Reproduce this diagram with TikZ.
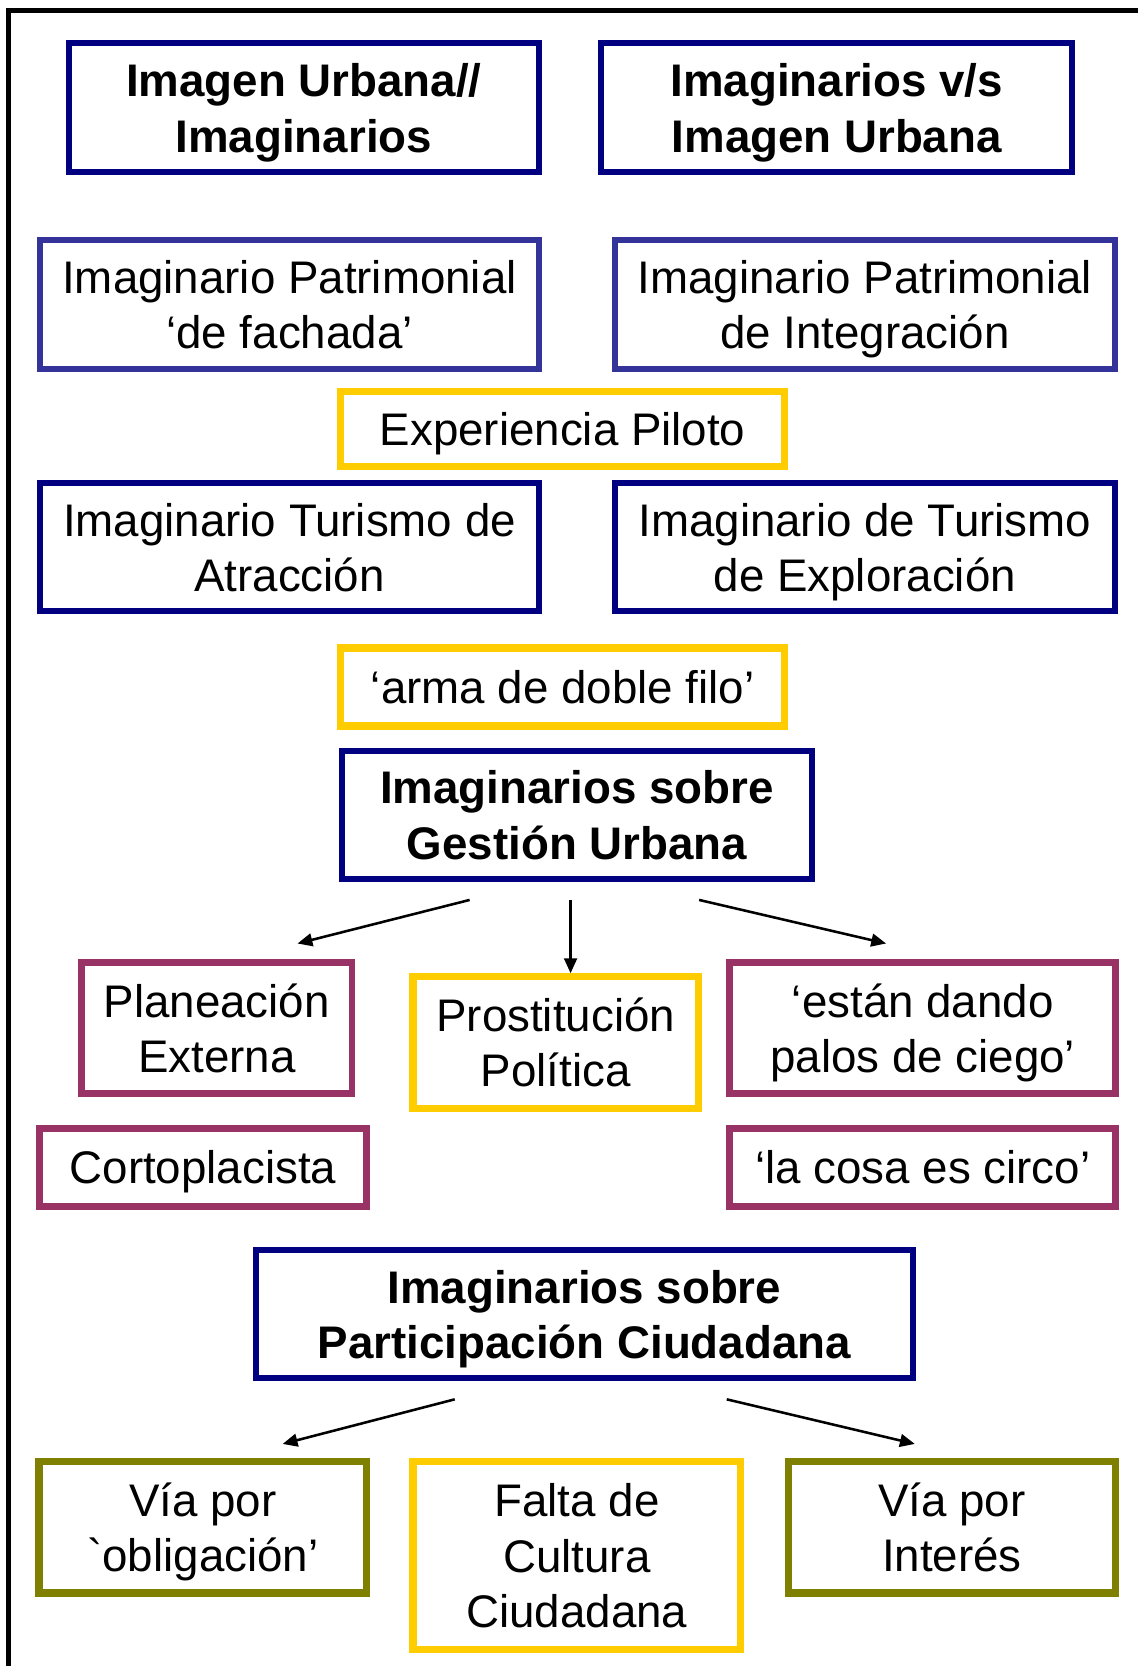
\documentclass[tikz,border=0pt]{standalone}
\usepackage{fontspec}
\setmainfont{Liberation Sans}[Ligatures=TeXOff]
\usepackage{tikz}
\usetikzlibrary{arrows.meta, positioning}
\definecolor{ImgNavy}{HTML}{000080}
\definecolor{ImgBlue}{HTML}{333399}
\definecolor{ImgYellow}{HTML}{FFCC00}
\definecolor{ImgMaroon}{HTML}{993366}
\definecolor{ImgOlive}{HTML}{808000}

\begin{document}
\begin{tikzpicture}[
  x=0.5pt, y=-0.5pt,
  concept/.style={rectangle, draw=#1, line width=2.8pt, align=center, inner sep=0pt, text depth=0pt, font=\fontsize{21.5}{26}\selectfont},
  heading/.style={concept=#1, font=\fontsize{21.5}{26}\selectfont\bfseries},
  boxdim/.style 2 args={minimum width=#1*0.5pt-2.8pt, minimum height=#2*0.5pt-2.8pt},
  >={Triangle[length=7pt,width=6pt]}
]
\useasboundingbox (0,0) rectangle (1071,1568);
\draw[line width=2.4pt] (8,1568) -- (8,10) -- (1075,10);

\node[heading=ImgNavy, boxdim={448}{127}] (UrbImag) at (286,101.5) {Imagen Urbana//\\Imaginarios};
\node[heading=ImgNavy, boxdim={449}{127}] (ImagUrb) at (787.5,101.5) {Imaginarios v/s\\Imagen Urbana};

\node[concept=ImgBlue, boxdim={475}{127}] (PatFach) at (272.5,286.5) {Imaginario Patrimonial\\‘de fachada’};
\node[concept=ImgBlue, boxdim={476}{127}] (PatInt) at (814,286.5) {Imaginario Patrimonial\\de Integración};
\node[concept=ImgYellow, line width=3.4pt, boxdim={423}{76}] (Piloto) at (529.5,404) {Experiencia Piloto};
\node[concept=ImgNavy, boxdim={475}{126}] (TurAtr) at (272.5,515) {Imaginario Turismo de\\Atracción};
\node[concept=ImgNavy, boxdim={476}{126}] (TurExp) at (814,515) {Imaginario de Turismo\\de Exploración};
\node[concept=ImgYellow, line width=3.4pt, boxdim={423}{79}] (Filo) at (529.5,646.5) {‘arma de doble filo’};

\node[heading=ImgNavy, boxdim={448}{126}] (Gestion) at (543,767) {Imaginarios sobre\\Gestión Urbana};
\node[concept=ImgMaroon, line width=3.2pt, boxdim={260}{129}] (Planea) at (204,967.5) {Planeación\\Externa};
\node[concept=ImgYellow, line width=3.4pt, boxdim={274}{130}] (Prost) at (523,981) {Prostitución\\Política};
\node[concept=ImgMaroon, line width=3.2pt, boxdim={369}{129}] (Ciego) at (868.5,967.5) {‘están dando\\palos de ciego’};
\node[concept=ImgMaroon, line width=3.2pt, boxdim={314}{79}] (Corto) at (191,1098.5) {Cortoplacista};
\node[concept=ImgMaroon, line width=3.2pt, boxdim={369}{79}] (Circo) at (868.5,1098.5) {‘la cosa es circo’};

\node[heading=ImgNavy, boxdim={624}{126}] (Partic) at (550,1237) {Imaginarios sobre\\Participación Ciudadana};
\node[concept=ImgOlive, line width=3.4pt, boxdim={314}{129}] (Oblig) at (191,1437.5) {Vía por\\`obligación’};
\node[concept=ImgYellow, line width=3.4pt, boxdim={314}{182}] (Cultura) at (543,1464) {Falta de\\Cultura\\Ciudadana};
\node[concept=ImgOlive, line width=3.4pt, boxdim={314}{129}] (Interes) at (896,1437.5) {Vía por\\Interés};

% arrow ends
\coordinate (GesL) at (442,847);
\coordinate (GesM) at (537,847);
\coordinate (GesR) at (658,847);
\coordinate (PlaTop) at (280,888);
\coordinate (ProTop) at (537,916);
\coordinate (CieTop) at (834,888);
\coordinate (ParL) at (428,1317);
\coordinate (ParR) at (684,1317);
\coordinate (OblTop) at (266,1359);
\coordinate (IntTop) at (861,1359);

\draw[->, line width=1.2pt] (GesL) -- (PlaTop);
\draw[->, line width=1.2pt] (GesM) -- (ProTop);
\draw[->, line width=1.2pt] (GesR) -- (CieTop);
\draw[->, line width=1.2pt] (ParL) -- (OblTop);
\draw[->, line width=1.2pt] (ParR) -- (IntTop);
\end{tikzpicture}
\end{document}
